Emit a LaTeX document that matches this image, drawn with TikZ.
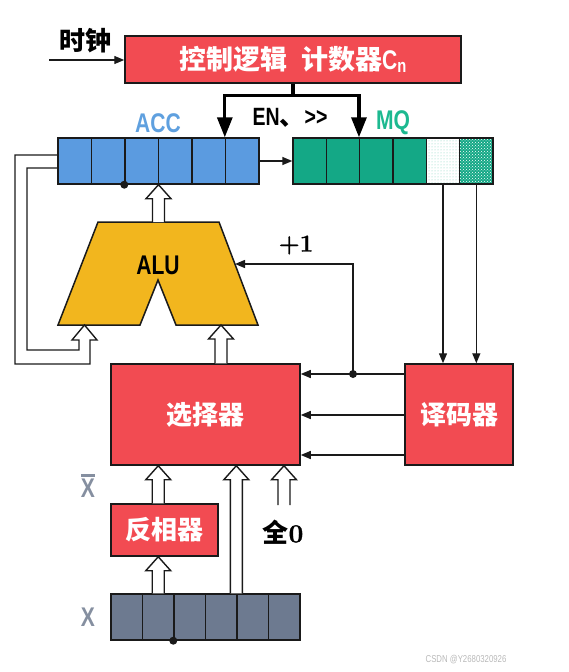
\documentclass[tikz,border=0pt]{standalone}
\usepackage{fontspec}
\newfontfamily\cjk{Noto Sans CJK SC}
\newfontfamily\lat{Liberation Sans}[FakeStretch=0.78]
\newfontfamily\numfont{Latin Modern Roman}[FakeBold=1.2]
\usetikzlibrary{arrows.meta,patterns,calc}
\definecolor{boxred}{HTML}{F24B52}
\definecolor{accblue}{HTML}{5B9BE0}
\definecolor{acctext}{HTML}{5FA0DF}
\definecolor{mqgreen}{HTML}{14A886}
\definecolor{mqtext}{HTML}{1DB990}
\definecolor{alugold}{HTML}{F2B61E}
\definecolor{xgray}{HTML}{6D7A90}
\definecolor{labgray}{HTML}{858FA0}
\definecolor{edge}{HTML}{1A1A1A}

\newcommand\hollowup[2]{%
  \draw[hollow] let \p1=(#1), \p2=(#2) in
    (\x1-6pt,\y1) -- (\x1-6pt,\y2-14pt) -- (\x1-12.5pt,\y2-14pt) -- (\x1,\y2)
    -- (\x1+12.5pt,\y2-14pt) -- (\x1+6pt,\y2-14pt) -- (\x1+6pt,\y1);}

\begin{document}
\begin{tikzpicture}[
    x=1pt, y=-1pt, >={Triangle[length=10pt,width=8pt]}, line width=1.4pt,
    block/.style={draw=edge, fill=boxred, line width=1.5pt, text=white, inner sep=0pt,
      font=\cjk\bfseries\fontsize{26}{26}\selectfont},
    cell/.style={draw=edge, line width=1.4pt, minimum height=46pt, inner sep=0pt},
    acccell/.style={cell, fill=accblue, minimum width=33.5pt},
    mqcell/.style={cell, fill=mqgreen, minimum width=33.33pt},
    xcell/.style={cell, fill=xgray, minimum width=31.5pt},
    bus/.style={line width=3.2pt, -{Triangle[length=20pt,width=15pt]}},
    hollow/.style={draw=edge, fill=white, line width=1.4pt},
    sig/.style={draw=edge, line width=1.4pt, ->},
    lab/.style={font=\lat\bfseries\fontsize{27}{27}\selectfont}
]
    \useasboundingbox (0,0) rectangle (568,672);

    \node[block, minimum width=336pt, minimum height=47pt, font=\cjk\bfseries\fontsize{27}{27}\selectfont] (ctrl) at (293,59.5)
        {控制逻辑\hspace{14pt}计数器{\lat C\textsubscript{n}}};
    \node[font=\cjk\bfseries\fontsize{26}{26}\selectfont] (clklab) at (85,41) {时钟};
    \coordinate (clk) at (49,60);

    \foreach \i in {0,...,5}
        \node[acccell] (acc\i) at (74.75+33.5*\i,161) {};
    \foreach \i in {0,...,3}
        \node[mqcell] (mq\i) at (309.67+33.33*\i,161) {};
    \node[mqcell, fill=white, pattern=dots, pattern color=mqgreen!55] (mq4) at (443,161) {};
    \node[mqcell, preaction={fill=mqgreen}, pattern=crosshatch dots, pattern color=white] (mq5) at (476.33,161) {};

    \node[lab, text=acctext] (acclab) at (158,123) {ACC};
    \node[lab, text=mqtext] (mqlab) at (393,123) {MQ};
    \node[font=\lat\bfseries\fontsize{25}{25}\selectfont] (enlab) at (290,118) {EN{\cjk 、}>{}>};

    \draw[fill=alugold, draw=edge, line width=1.5pt] (98,222) -- (219,222) -- (258,325) -- (176,325)
        -- (158,280) -- (140,325) -- (58,325) -- cycle;
    \node[lab] (alulab) at (158,265) {ALU};
    \coordinate (alutop) at (158.5,222);
    \coordinate (aluin) at (235,264);
    \coordinate (aluleft) at (84.5,325);
    \coordinate (aluright) at (221,325);
    \node[font=\numfont\bfseries\fontsize{24}{24}\selectfont] (plusone) at (296,245) {+1};

    \node[block, minimum width=189pt, minimum height=101pt] (sel) at (205.5,414.5) {选择器};
    \node[block, minimum width=108pt, minimum height=101pt] (dec) at (459,414.5) {译码器};
    \node[block, minimum width=107pt, minimum height=52pt] (inv) at (164.5,530) {反相器};

    \foreach \i in {0,...,5}
        \node[xcell] (xr\i) at (126.75+31.5*\i,617) {};
    \node[lab, text=labgray] (xlab) at (88,617) {X};
    \node[lab, text=labgray] (xbarlab) at (88,486)
        {\setbox0\hbox{X}\vbox{\hrule width\wd0 height 2.5pt\kern2.5pt\box0}};
    \node[font=\fontsize{26}{26}\selectfont] (zerolab) at (283,532) {{\cjk\bfseries 全}{\numfont\bfseries 0}};
    \coordinate (zerofoot) at (284,505);
    \node[font=\lat\fontsize{10}{10}\selectfont, text=gray!55] (wm) at (466,660) {CSDN @Y2680320926};

    \draw[sig] (clk) -- (ctrl.west |- clk);
    \draw[line width=3.2pt] (ctrl.south) -- ++(0,12) coordinate (busy);
    \draw[bus] (busy) -| (acc5.north west);
    \draw[bus] (busy) -| (mq2.north west);
    \draw[sig] (acc5.east) -- (mq0.west);

    \draw[draw=edge] (acc0.west |- 0,155) -| (15,364) -| (90,340) -- (97,340) -- (aluleft)
        -- (72,340) -- (79,340) |- (27,350) |- (acc0.west |- 0,168);

    \draw[sig] (mq4.south) -- (mq4.south |- dec.north);
    \draw[sig] (mq5.south) -- (mq5.south |- dec.north);
    \draw[sig] (dec.west |- 0,374) -- (sel.east |- 0,374);
    \draw[sig] (dec.west |- 0,415) -- (sel.east |- 0,415);
    \draw[sig] (dec.west |- 0,455) -- (sel.east |- 0,455);
    \coordinate (tap) at (353,374);
    \fill[edge] (tap) circle (4pt);
    \draw[sig] (tap) |- (aluin);

    \hollowup{alutop}{acc3.south west}
    \hollowup{sel.north -| aluright}{aluright}
    \hollowup{inv.north -| xr1.north}{sel.south -| xr1.north}
    \hollowup{xr1.north}{inv.south -| xr1.north}
    \hollowup{xr4.north west}{sel.south -| xr4.north west}
    \hollowup{zerofoot}{sel.south -| zerofoot}

    \fill[edge] (acc2.south west) circle (4pt);
    \fill[edge] (xr2.south west) circle (4pt);
\end{tikzpicture}
\end{document}
